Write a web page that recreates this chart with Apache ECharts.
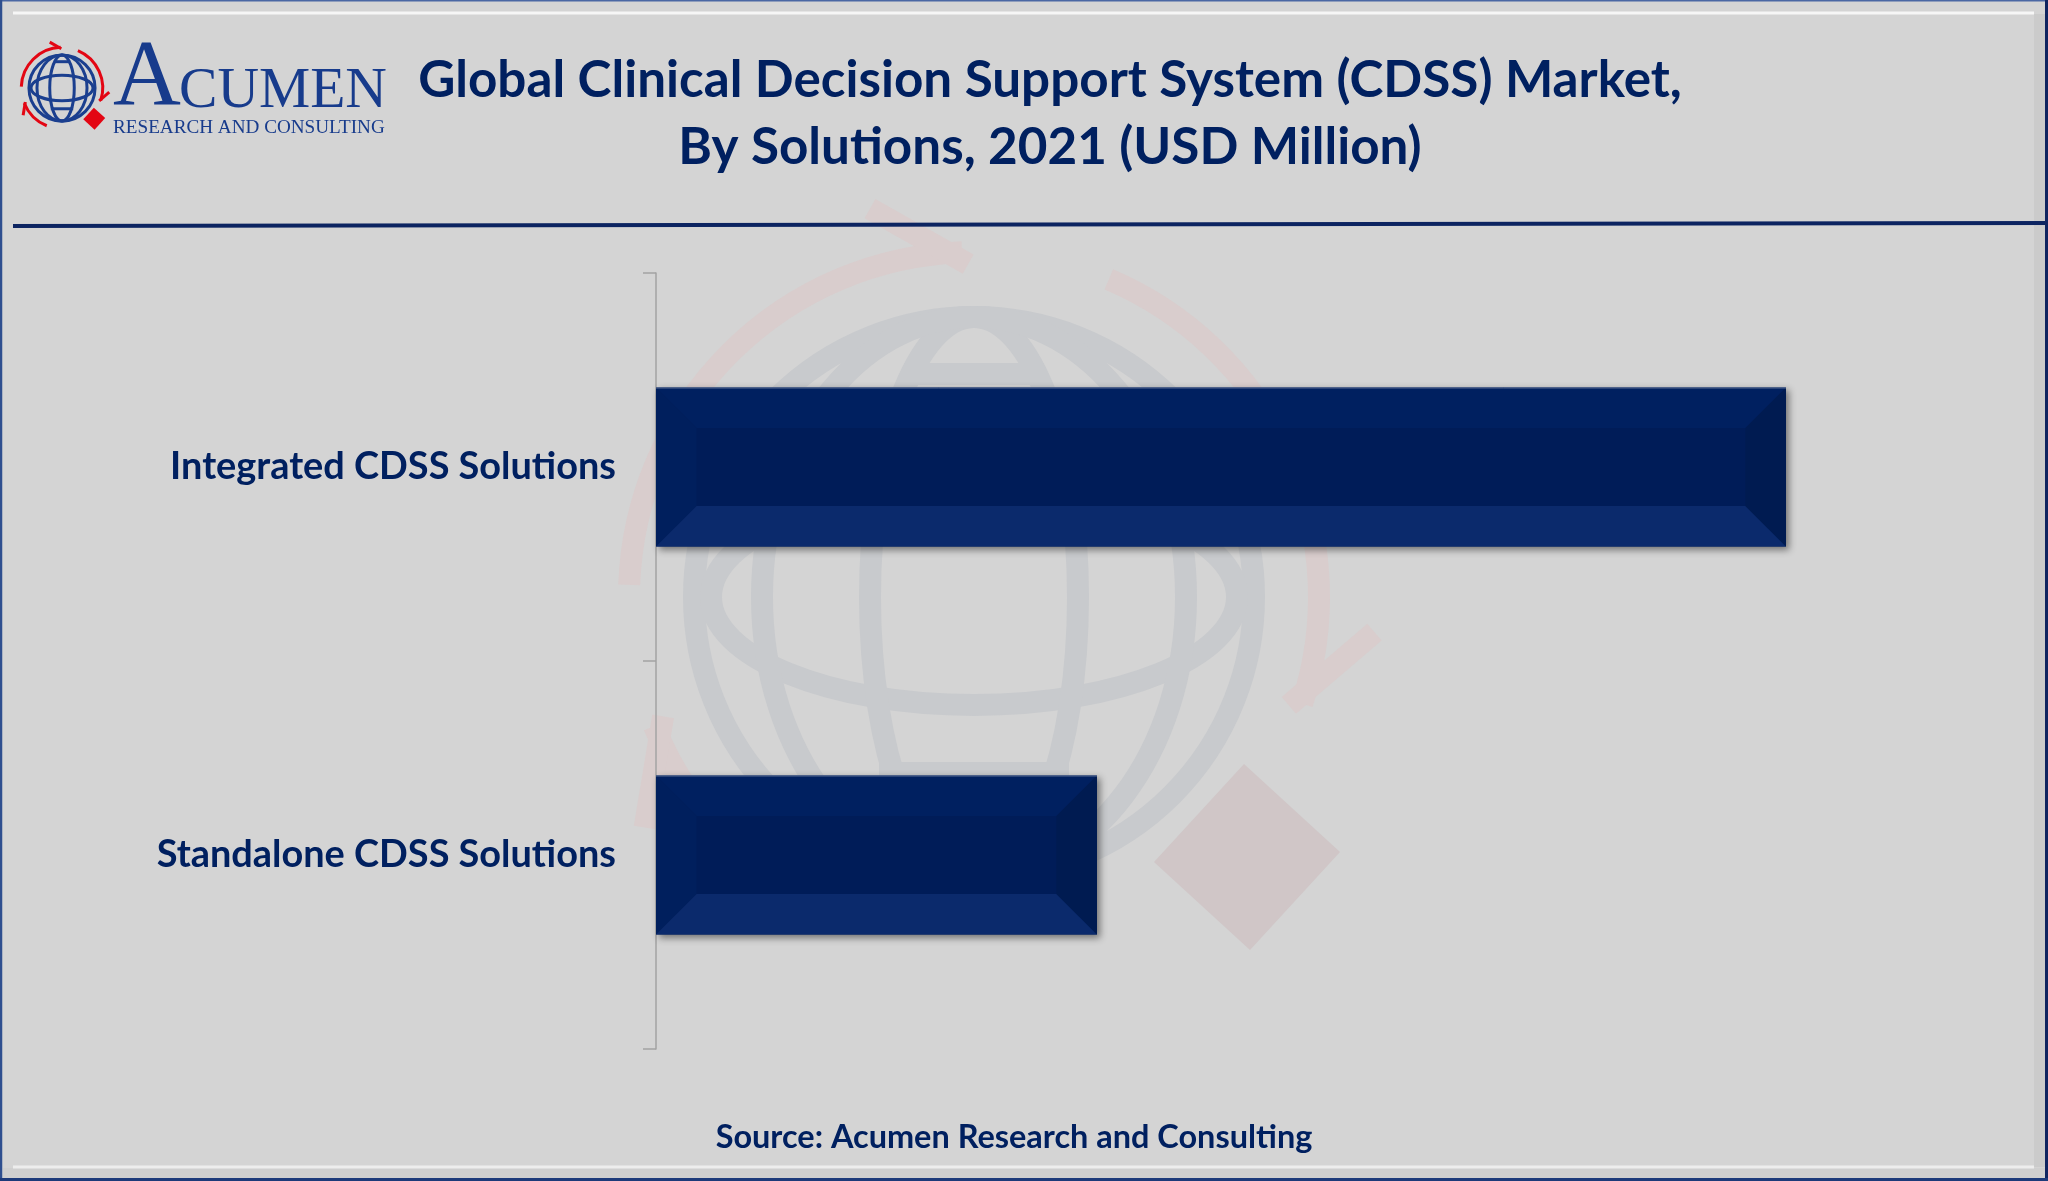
<!DOCTYPE html>
<html><head><meta charset="utf-8">
<script src="https://cdn.jsdelivr.net/npm/echarts@6/dist/echarts.min.js"></script>
<style>html,body{margin:0;padding:0;background:#d4d4d4}#c{width:2048px;height:1181px}</style>
</head><body><div id="c"></div>
<script>
// ---------- data ----------
const categories = ['Integrated CDSS Solutions', 'Standalone CDSS Solutions'];
const values = [1130, 441];
const axisMax = 1300;
const titleLines = ['Global Clinical Decision Support System (CDSS) Market,', 'By Solutions, 2021 (USD Million)'];
const sourceText = 'Source: Acumen Research and Consulting';
const brandName = ['A', 'CUMEN'];
const brandSub = 'RESEARCH AND CONSULTING';

// ---------- helpers ----------
const NAVY = '#002060';
const mctx = document.createElement('canvas').getContext('2d');
function fit(text, weight, family, target) {
  mctx.font = weight + ' 100px "' + family + '"';
  return 100 * target / mctx.measureText(text).width;
}
const titleSize = fit(titleLines[0], 'bold', 'Lato', 1264);
const labelSize = fit(categories[0], 'bold', 'Lato', 446);
const sourceSize = fit(sourceText, 'bold', 'Lato', 597);
const subSize = fit(brandSub, 'normal', 'Liberation Serif', 272);
const cumenSize = fit(brandName[1], 'normal', 'Liberation Serif', 208);

function P(cx, cy, r, deg) {
  const a = deg * Math.PI / 180;
  return [cx + r * Math.cos(a), cy + r * Math.sin(a)];
}
function logo(cx, cy, s, c, z) {
  const els = [];
  const R = 280 * s, R2 = 345 * s;
  const gs = { stroke: c.globe, lineWidth: c.gw, fill: null };
  els.push({ type: 'circle', z, silent: true, shape: { cx, cy, r: R }, style: Object.assign({}, gs) });
  els.push({ type: 'ellipse', z, silent: true, shape: { cx, cy, rx: 263 * s, ry: 108 * s }, style: Object.assign({}, gs) });
  els.push({ type: 'ellipse', z, silent: true, shape: { cx, cy, rx: 104 * s, ry: R }, style: Object.assign({}, gs) });
  els.push({ type: 'ellipse', z, silent: true, shape: { cx, cy, rx: 212 * s, ry: R }, style: Object.assign({}, gs) });
  els.push({ type: 'line', z, silent: true, shape: { x1: cx - 70 * s, y1: cy - 223 * s, x2: cx + 70 * s, y2: cy - 223 * s }, style: Object.assign({}, gs) });
  els.push({ type: 'line', z, silent: true, shape: { x1: cx - 95 * s, y1: cy + 176 * s, x2: cx + 95 * s, y2: cy + 176 * s }, style: Object.assign({}, gs) });
  const rs = { stroke: c.red, lineWidth: c.rw, fill: null, lineCap: 'butt' };
  const arcs = [[182, 268], [293, 378], [112, 158]];
  arcs.forEach(a => {
    els.push({ type: 'arc', z, silent: true, shape: { cx, cy, r: R2, startAngle: a[0] * Math.PI / 180, endAngle: a[1] * Math.PI / 180, clockwise: true }, style: Object.assign({}, rs) });
    const tip = P(cx, cy, 333 * s, a[1] + 1);
    const back = P(cx, cy, 402 * s, a[1] - 13);
    els.push({ type: 'line', z, silent: true, shape: { x1: back[0], y1: back[1], x2: tip[0], y2: tip[1] }, style: Object.assign({}, rs) });
  });
  const dc = [cx + 273 * s, cy + 260 * s], d = 93 * s;
  els.push({ type: 'polygon', z, silent: true, shape: { points: [[dc[0] - 3 * s, dc[1] - d], [dc[0] + d, dc[1] - 5 * s], [dc[0] + 3 * s, dc[1] + d], [dc[0] - d, dc[1] + 5 * s]] }, style: { fill: c.diamond } });
  return els;
}

const W = 2048, H = 1181;
const graphics = [];
// watermark
graphics.push(...logo(974, 597, 1, { globe: '#c8cacd', gw: 22, red: '#d9cdcd', rw: 22, diamond: '#d0c6c7' }, -10));
// frame
graphics.push({ type: 'rect', z: -20, silent: true, shape: { x: 2034, y: 14, width: 12, height: 1153 }, style: { fill: '#cbcbcb' } });
graphics.push({ type: 'rect', z: -20, silent: true, shape: { x: 3, y: 1168, width: 2043, height: 10 }, style: { fill: '#cfcfcf' } });
graphics.push({ type: 'line', z: -19, silent: true, shape: { x1: 13, y1: 13, x2: 2034, y2: 13 }, style: { stroke: '#f6f6f6', lineWidth: 3 } });
graphics.push({ type: 'line', z: -19, silent: true, shape: { x1: 13, y1: 1167, x2: 2034, y2: 1167 }, style: { stroke: '#ededed', lineWidth: 3 } });
graphics.push({ type: 'line', z: 50, silent: true, shape: { x1: 0, y1: 0.5, x2: W, y2: 0.5 }, style: { stroke: '#4a67a3', lineWidth: 2 } });
graphics.push({ type: 'line', z: 50, silent: true, shape: { x1: 1, y1: 0, x2: 1, y2: H }, style: { stroke: '#2f4f8f', lineWidth: 2.5 } });
graphics.push({ type: 'line', z: 50, silent: true, shape: { x1: W - 1.5, y1: 0, x2: W - 1.5, y2: H }, style: { stroke: '#0f2460', lineWidth: 3 } });
graphics.push({ type: 'line', z: 50, silent: true, shape: { x1: 0, y1: H - 1.5, x2: W, y2: H - 1.5 }, style: { stroke: '#1d3a7a', lineWidth: 3 } });
// header rule
graphics.push({ type: 'line', z: 5, silent: true, shape: { x1: 13, y1: 226, x2: W, y2: 223 }, style: { stroke: '#0c2461', lineWidth: 4 } });
// brand logo
graphics.push(...logo(62, 88, 0.118, { globe: '#1b3f8f', gw: 3, red: '#e30613', rw: 3, diamond: '#e30613' }, 5));
graphics.push({ type: 'text', z: 5, silent: true, x: 113, y: 111 - 0.3375 * 94, style: { text: brandName[0], fontFamily: 'Liberation Serif', fontSize: 94, fill: '#173b8c', textAlign: 'left', textVerticalAlign: 'middle' } });
graphics.push({ type: 'text', z: 5, silent: true, x: 179, y: 111 - 0.3375 * cumenSize, style: { text: brandName[1], fontFamily: 'Liberation Serif', fontSize: cumenSize, fill: '#173b8c', textAlign: 'left', textVerticalAlign: 'middle' } });
graphics.push({ type: 'text', z: 5, silent: true, x: 113, y: 134 - 0.3375 * subSize, style: { text: brandSub, fontFamily: 'Liberation Serif', fontSize: subSize, fill: '#173b8c', textAlign: 'left', textVerticalAlign: 'middle' } });
// title
const tBase = [100, 167];
titleLines.forEach((t, i) => {
  graphics.push({ type: 'text', z: 5, silent: true, x: 1050, y: tBase[i] - 0.387 * titleSize, style: { text: t, fontFamily: 'Lato', fontWeight: 'bold', fontSize: titleSize, fill: NAVY, textAlign: 'center', textVerticalAlign: 'middle' } });
});
// source
graphics.push({ type: 'text', z: 5, silent: true, x: 1014, y: 1150 - 0.387 * sourceSize, style: { text: sourceText, fontFamily: 'Lato', fontWeight: 'bold', fontSize: sourceSize, fill: NAVY, textAlign: 'center', textVerticalAlign: 'middle' } });

function renderBar(params, api) {
  const v = api.value(0), c = api.value(1);
  const s = api.coord([0, c]), e = api.coord([v, c]);
  const band = api.size([0, 1])[1];
  const h = band * 0.41;
  const x0 = s[0], x1 = e[0], y0 = s[1] - h / 2, y1 = s[1] + h / 2;
  const b = Math.min(h * 0.255, (x1 - x0) / 2);
  return {
    type: 'group', children: [
      { type: 'rect', shape: { x: x0, y: y0, width: x1 - x0, height: h }, style: { fill: '#001c58', shadowBlur: 7, shadowOffsetX: 3, shadowOffsetY: 3, shadowColor: 'rgba(0,0,0,0.45)' } },
      { type: 'polygon', shape: { points: [[x0, y0], [x1, y0], [x1 - b, y0 + b], [x0 + b, y0 + b]] }, style: { fill: '#002060' } },
      { type: 'polygon', shape: { points: [[x0, y0], [x0 + b, y0 + b], [x0 + b, y1 - b], [x0, y1]] }, style: { fill: '#001f5d' } },
      { type: 'polygon', shape: { points: [[x0, y1], [x1, y1], [x1 - b, y1 - b], [x0 + b, y1 - b]] }, style: { fill: '#0b2a6c' } },
      { type: 'polygon', shape: { points: [[x1, y0], [x1, y1], [x1 - b, y1 - b], [x1 - b, y0 + b]] }, style: { fill: '#001b51' } },
      { type: 'line', shape: { x1: x0, y1: y0 + 0.5, x2: x1, y2: y0 + 0.5 }, style: { stroke: 'rgba(120,135,165,0.8)', lineWidth: 1 } }
    ]
  };
}

const chart = echarts.init(document.getElementById('c'), null, { renderer: 'canvas', width: W, height: H });
chart.setOption({
  animation: false,
  backgroundColor: '#d4d4d4',
  grid: { left: 656, top: 273, width: 1300, height: 776, containLabel: false },
  xAxis: { type: 'value', min: 0, max: axisMax, show: false },
  yAxis: {
    type: 'category', data: categories, inverse: true,
    axisLine: { show: true, lineStyle: { color: '#a3a3a3', width: 1.5 } },
    axisTick: { show: true, length: 13, lineStyle: { color: '#a3a3a3', width: 1.5 } },
    axisLabel: { margin: 40, fontFamily: 'Lato', fontWeight: 'bold', fontSize: labelSize, color: NAVY }
  },
  graphic: { elements: graphics },
  series: [{
    type: 'custom', renderItem: renderBar, clip: false, z: 3,
    encode: { x: 0, y: 1 },
    data: values.map((v, i) => [v, i])
  }]
});
</script></body></html>
